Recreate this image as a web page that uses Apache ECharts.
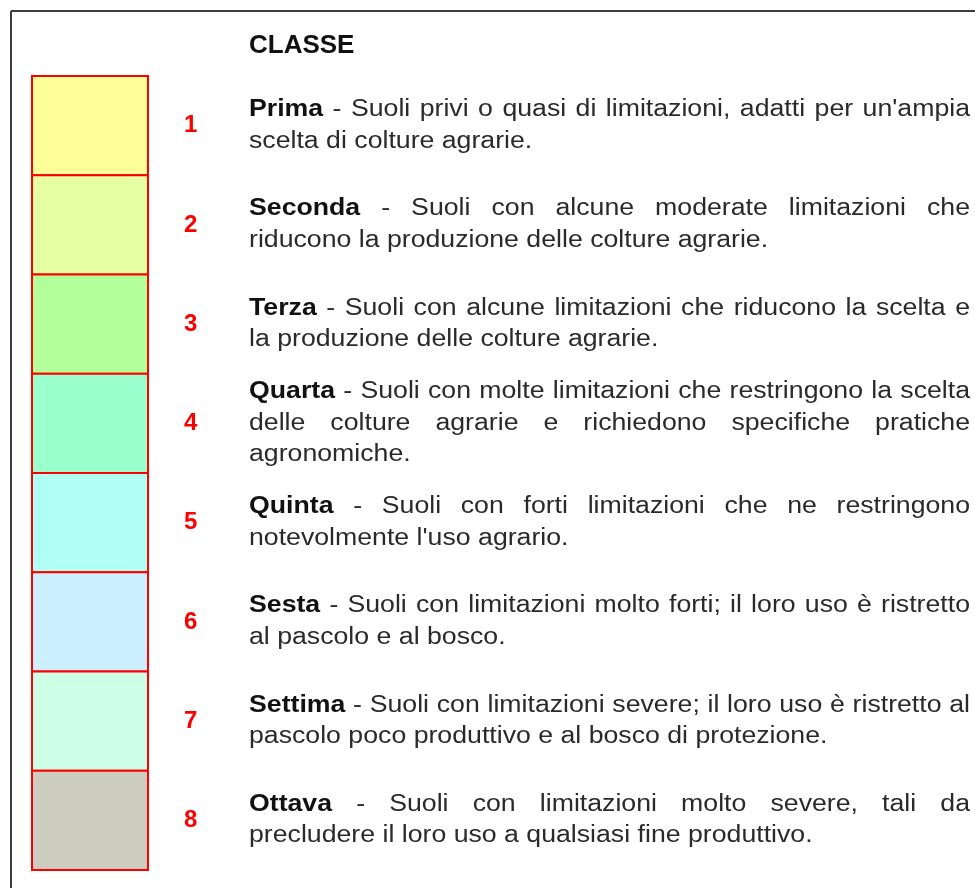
<!DOCTYPE html>
<html>
<head>
<meta charset="utf-8">
<script src="https://cdn.jsdelivr.net/npm/echarts@6/dist/echarts.min.js"></script>
<style>
  html, body { margin: 0; padding: 0; background: #ffffff; }
  #chart { width: 975px; height: 888px; }
</style>
</head>
<body>
<div id="chart"></div>
<script>
// ---- data ----
const headerTitle = 'CLASSE';
const classNumbers = ['1', '2', '3', '4', '5', '6', '7', '8'];
const classValues = [1, 1, 1, 1, 1, 1, 1, 1];
const classNames = ['Prima', 'Seconda', 'Terza', 'Quarta', 'Quinta', 'Sesta', 'Settima', 'Ottava'];
const classColors = ['#FFFF99', '#E5FFA3', '#B3FF99', '#99FFCC', '#AFFFF5', '#CCF0FF', '#CCFFE5', '#CCCCBF'];
const descriptionLines = [
  ["- Suoli privi o quasi di limitazioni, adatti per un'ampia", "scelta di colture agrarie."],
  ["- Suoli con alcune moderate limitazioni che", "riducono la produzione delle colture agrarie."],
  ["- Suoli con alcune limitazioni che riducono la scelta e", "la produzione delle colture agrarie."],
  ["- Suoli con molte limitazioni che restringono la scelta", "delle colture agrarie e richiedono specifiche pratiche", "agronomiche."],
  ["- Suoli con forti limitazioni che ne restringono", "notevolmente l'uso agrario."],
  ["- Suoli con limitazioni molto forti; il loro uso è ristretto", "al pascolo e al bosco."],
  ["- Suoli con limitazioni severe; il loro uso è ristretto al", "pascolo poco produttivo e al bosco di protezione."],
  ["- Suoli con limitazioni molto severe, tali da", "precludere il loro uso a qualsiasi fine produttivo."]
];

// ---- layout / style ----
const FONT_FAMILY = '"Liberation Sans", Arial, Helvetica, sans-serif';
const BODY_SIZE = 23;
const SCALE_X = 1.16;
const LINE_H = 31.5;
const TEXT_LEFT = 249;
const TEXT_RIGHT = 970;

const chart = echarts.init(document.getElementById('chart'), null, { renderer: 'canvas' });

chart.setOption({
  backgroundColor: '#ffffff',
  animation: false,
  title: {
    text: headerTitle,
    left: 249,
    top: 33,
    padding: 0,
    textStyle: { fontFamily: FONT_FAMILY, fontSize: 26, fontWeight: 'bold', color: '#111111' }
  },
  grid: { left: 32, top: 76, width: 116, height: 794 },
  xAxis: { type: 'value', min: 0, max: 1, show: false },
  yAxis: { type: 'category', data: classNumbers, inverse: true, show: false },
  series: [{
    type: 'custom',
    silent: true,
    data: classValues.map((v, i) => [v, i]),
    encode: { x: 0, y: 1 },
    renderItem: function (params, api) {
      const idx = api.value(1);
      const left = api.coord([0, idx]);
      const right = api.coord([api.value(0), idx]);
      const band = api.size([0, 1])[1];
      return {
        type: 'rect',
        shape: { x: left[0], y: left[1] - band / 2, width: right[0] - left[0], height: band },
        style: { fill: classColors[idx], stroke: '#FF0000', lineWidth: 2 },
        textContent: {
          style: {
            text: classNumbers[idx],
            fill: '#FF0000',
            font: 'bold 24px ' + FONT_FAMILY
          }
        },
        textConfig: { position: 'right', distance: 35 }
      };
    }
  }]
});

// ---- description text (justified like the reference) ----
const ctx = document.createElement('canvas').getContext('2d');
function fontStr(bold) { return (bold ? 'bold ' : '') + BODY_SIZE + 'px ' + FONT_FAMILY; }
function measure(text, bold) { ctx.font = fontStr(bold); return ctx.measureText(text).width * SCALE_X; }

const elements = [
  { type: 'line', shape: { x1: 11, y1: 11, x2: 975, y2: 11 }, style: { stroke: '#3c3c3c', lineWidth: 2 } },
  { type: 'line', shape: { x1: 11, y1: 11, x2: 11, y2: 888 }, style: { stroke: '#3c3c3c', lineWidth: 2 } }
];

classNumbers.forEach((c, i) => {
  const yc = chart.convertToPixel({ yAxisIndex: 0 }, c);
  const lines = descriptionLines[i];
  const n = lines.length;
  lines.forEach((line, j) => {
    const y = yc + (j - (n - 1) / 2) * LINE_H;
    const tokens = line.split(' ').filter(Boolean).map(t => ({ text: t, bold: false }));
    if (j === 0) tokens.unshift({ text: classNames[i], bold: true });
    const widths = tokens.map(t => measure(t.text, t.bold));
    const total = widths.reduce((a, b) => a + b, 0);
    const justify = j < n - 1 && tokens.length > 1;
    const gap = justify ? (TEXT_RIGHT - TEXT_LEFT - total) / (tokens.length - 1) : measure(' ', false);
    let x = TEXT_LEFT;
    tokens.forEach((t, k) => {
      elements.push({
        type: 'text',
        x: x,
        y: y,
        scaleX: SCALE_X,
        silent: true,
        style: {
          text: t.text,
          font: fontStr(t.bold),
          fill: t.bold ? '#111111' : '#2a2a2a',
          align: 'left',
          verticalAlign: 'middle'
        }
      });
      x += widths[k] + gap;
    });
  });
});

chart.setOption({ graphic: { elements: elements } });
</script>
</body>
</html>
